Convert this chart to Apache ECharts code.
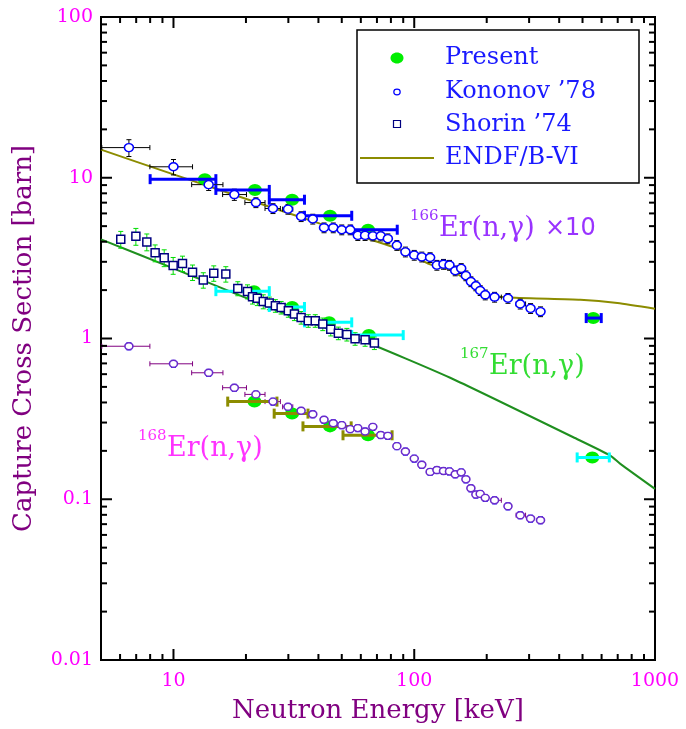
<!DOCTYPE html>
<html>
<head>
<meta charset="utf-8">
<script src="https://cdn.jsdelivr.net/npm/echarts@6/dist/echarts.min.js"></script>
<style>
  html, body { margin: 0; padding: 0; background: #fff; }
  #main { width: 686px; height: 729px; }
</style>
</head>
<body>
<div id="main"></div>
<script>
// ---- data (energies in keV, cross sections in barn) ----
// Present work, 166Er (plotted x10), 167Er, 168Er
const present166E   = [13.5, 21.8, 31.1, 44.7, 64.3, 554];
const present166Y   = [9.8, 8.4, 7.3, 5.8, 4.75, 1.34];
const present166ELo = [8, 15, 25, 35, 55, 518];
const present166EHi = [15, 25, 35, 55, 85, 598];

const present167E   = [21.6, 31.1, 44.3, 64.8, 549];
const present167Y   = [1.97, 1.57, 1.26, 1.05, 0.182];
const present167ELo = [15, 25, 35, 55, 475];
const present167EHi = [25, 35, 55, 90, 646];

const present168E   = [21.7, 31.1, 44.7, 64.3];
const present168Y   = [0.405, 0.341, 0.284, 0.250];
const present168ELo = [16.8, 26.2, 34.5, 50.6];
const present168EHi = [26.9, 36.2, 54.7, 80.9];

// Kononov '78 (same energy grid for 166Er and 168Er)
const kononovE = [6.53, 10.0, 14.0, 17.9, 22.0, 25.9, 29.9, 33.9, 37.9, 42.2, 46.1, 50.0, 54.2, 58.3, 62.5,
  67.3, 72.6, 77.7, 84.7, 91.9, 100, 107.5, 116.4, 124.2, 132.3, 140.1, 148, 156.7, 163.9, 171.9, 180.3,
  187.9, 197.2, 215.6, 245.1, 275.6, 304.2, 334.6];
const kononovELo = [5.04, 7.98, 11.9, 16.0, 19.8, 24.0, 28.4, 32.9, 36.8, 41.0, 44.7, 48.5, 52.6, 56.6, 60.6,
  65.3, 70.4, 75.4, 82.2, 89.1, 97, 104.3, 112.9, 120.5, 128.3, 135.9, 143.6, 152, 159, 166.7, 174.9,
  182.3, 191.3, 209, 237.7, 265, 295, 324.6];
const kononovEHi = [7.98, 12.0, 16.05, 20.1, 24.0, 27.8, 31.3, 34.9, 39.0, 43.5, 47.5, 51.5, 55.8, 60.0, 64.4,
  69.3, 74.8, 80.0, 87.2, 94.7, 103, 110.7, 119.9, 127.9, 136.3, 144.3, 152.4, 161.4, 168.8, 177.1, 185.7,
  193.5, 203.1, 230, 252.5, 290, 313, 344.6];
const kononov166Y = [15.4, 11.7, 9.06, 7.86, 7.01, 6.44, 6.38, 5.74, 5.54, 4.89, 4.89, 4.75, 4.75, 4.38, 4.38,
  4.35, 4.35, 4.18, 3.80, 3.46, 3.30, 3.22, 3.19, 2.86, 2.90, 2.86, 2.64, 2.73, 2.46, 2.26, 2.13,
  1.99, 1.87, 1.81, 1.78, 1.64, 1.54, 1.47];
const kononov166Err = [0.12, 0.11, 0.08, 0.08, 0.07, 0.07, 0.07, 0.07, 0.07, 0.07, 0.07, 0.07, 0.07, 0.07, 0.07,
  0.07, 0.07, 0.07, 0.07, 0.07, 0.07, 0.07, 0.07, 0.07, 0.07, 0.07, 0.07, 0.07, 0.07, 0.07, 0.07,
  0.07, 0.07, 0.07, 0.07, 0.07, 0.07, 0.07];
const kononov168Y = [0.895, 0.696, 0.612, 0.494, 0.449, 0.405, 0.376, 0.355, 0.338, 0.312, 0.297, 0.289, 0.273,
  0.277, 0.264, 0.282, 0.251, 0.248, 0.214, 0.198, 0.179, 0.164, 0.148, 0.152, 0.150, 0.149, 0.143, 0.147,
  0.133, 0.117, 0.107, 0.108, 0.102, 0.0985, 0.0904, 0.0796, 0.0758, 0.0741];
const kononov168Err = [0.05, 0.05, 0.05, 0.05, 0.05, 0.05, 0.05, 0.05, 0.05, 0.05, 0.05, 0.05, 0.05,
  0.05, 0.05, 0.05, 0.05, 0.05, 0.05, 0.05, 0.05, 0.05, 0.05, 0.05, 0.05, 0.05, 0.05, 0.05,
  0.05, 0.05, 0.05, 0.05, 0.05, 0.05, 0.05, 0.05, 0.05, 0.05];

// Shorin '74, 167Er
const shorinE = [6.04, 6.98, 7.75, 8.39, 9.15, 9.97, 10.9, 12.0, 13.3, 14.7, 16.5, 18.5, 20.3, 21.3, 22.3, 23.6,
  25.0, 26.5, 28.0, 30.0, 31.8, 33.9, 36.3, 38.8, 41.7, 45.0, 48.4, 52.5, 56.8, 62.5, 68.3];
const shorinY = [4.14, 4.32, 3.99, 3.41, 3.18, 2.85, 2.93, 2.58, 2.31, 2.55, 2.52, 2.05, 1.96, 1.82, 1.78, 1.70,
  1.66, 1.60, 1.56, 1.49, 1.42, 1.35, 1.29, 1.29, 1.23, 1.14, 1.08, 1.06, 0.997, 0.983, 0.938];
const shorinErr = [0.12, 0.12, 0.12, 0.12, 0.12, 0.12, 0.11, 0.11, 0.11, 0.11, 0.11, 0.1, 0.1, 0.1, 0.1, 0.1,
  0.09, 0.09, 0.09, 0.09, 0.09, 0.09, 0.09, 0.09, 0.09, 0.09, 0.09, 0.09, 0.09, 0.09, 0.09];

// ENDF/B-VI evaluations
const endf166E = [5, 10, 20.8, 40.6, 84.9, 116.4, 141, 163.5, 182.6, 197.2, 221.2, 303.4, 489.6, 698, 1000];
const endf166Y = [14.95, 10.49, 7.25, 5.18, 3.63, 2.89, 2.67, 2.32, 2.01, 1.86, 1.82, 1.78, 1.74, 1.66, 1.53];
const endf167E = [5, 10, 30.5, 59.6, 141, 457.9, 652.6, 718, 1000];
const endf167Y = [4.14, 2.73, 1.39, 0.983, 0.570, 0.243, 0.187, 0.166, 0.116];

const xTickLabels = ['10', '100', '1000'];
const yTickLabels = ['0.01', '0.1', '1', '10', '100'];

// ---- helpers ----
const SERIF = 'DejaVu Serif';

function pts(E, Y) {
  return E.map((e, i) => [e, Y[i]]);
}
function barData(E, Y, eLo, eHi, rel) {
  return E.map((e, i) => [
    e, Y[i],
    eLo ? eLo[i] : NaN, eHi ? eHi[i] : NaN,
    rel ? Y[i] * (1 - rel[i]) : NaN, rel ? Y[i] * (1 + rel[i]) : NaN
  ]);
}
function errorBars(hColor, vColor, width, cap) {
  return function (params, api) {
    const x = api.value(0), y = api.value(1);
    const kids = [];
    const seg = (x1, y1, x2, y2, c) => kids.push({
      type: 'line', shape: {x1: x1, y1: y1, x2: x2, y2: y2},
      style: {stroke: c, lineWidth: width}
    });
    const xl = api.value(2), xh = api.value(3);
    if (isFinite(xl) && isFinite(xh)) {
      const a = api.coord([xl, y]), b = api.coord([xh, y]);
      seg(a[0], a[1], b[0], b[1], hColor);
      seg(a[0], a[1] - cap, a[0], a[1] + cap, hColor);
      seg(b[0], b[1] - cap, b[0], b[1] + cap, hColor);
    }
    const yl = api.value(4), yh = api.value(5);
    if (isFinite(yl) && isFinite(yh)) {
      const a = api.coord([x, yl]), b = api.coord([x, yh]);
      seg(a[0], a[1], b[0], b[1], vColor);
      seg(a[0] - 2.5, a[1], a[0] + 2.5, a[1], vColor);
      seg(b[0] - 2.5, b[1], b[0] + 2.5, b[1], vColor);
    }
    return {type: 'group', children: kids};
  };
}
function barSeries(data, hColor, vColor, width, cap, z) {
  return {
    type: 'custom', data: data, renderItem: errorBars(hColor, vColor, width, cap),
    encode: {x: 0, y: 1}, silent: true, z: z
  };
}
function isDecade(v) {
  const l = Math.log10(v);
  return Math.abs(l - Math.round(l)) < 1e-6;
}

const chart = echarts.init(document.getElementById('main'));

const option = {
  backgroundColor: '#fff',
  animation: false,
  grid: {left: 101, right: 31, top: 17, bottom: 65, show: true, borderColor: '#000', borderWidth: 2},
  xAxis: {
    type: 'log', min: 5, max: 1000, logBase: 10,
    axisLine: {show: false}, axisTick: {show: false}, splitLine: {show: false},
    axisLabel: {
      margin: 12, color: '#ff00ff', fontFamily: SERIF, fontSize: 19,
      formatter: v => (isDecade(v) && xTickLabels.indexOf(String(Math.round(v))) >= 0) ? String(Math.round(v)) : ''
    },
    name: 'Neutron Energy [keV]', nameLocation: 'middle', nameGap: 38,
    nameTextStyle: {color: '#800080', fontFamily: SERIF, fontSize: 26}
  },
  yAxis: {
    type: 'log', min: 0.01, max: 100, logBase: 10,
    axisLine: {show: false}, axisTick: {show: false}, splitLine: {show: false},
    axisLabel: {
      margin: 8, color: '#ff00ff', fontFamily: SERIF, fontSize: 19,
      formatter: v => {
        if (!isDecade(v)) return '';
        const s = String(Number(v.toPrecision(1)));
        return yTickLabels.indexOf(s) >= 0 ? s : '';
      }
    },
    name: 'Capture Cross Section [barn]', nameLocation: 'middle', nameGap: 64,
    nameTextStyle: {color: '#800080', fontFamily: SERIF, fontSize: 26}
  },
  series: [
    {type: 'line', data: pts(endf166E, endf166Y), showSymbol: false, smooth: 0.2,
      lineStyle: {color: '#8c8c00', width: 2}, z: 1},
    {type: 'line', data: pts(endf167E, endf167Y), showSymbol: false, smooth: 0.2,
      lineStyle: {color: '#1f8f1f', width: 2}, z: 1},
    barSeries(barData(kononovE, kononov166Y, kononovELo, kononovEHi, kononov166Err), '#000', '#000', 1, 2.5, 3),
    barSeries(barData(kononovE, kononov168Y, kononovELo, kononovEHi, kononov168Err), '#800080', '#0000ff', 1, 2.5, 3),
    barSeries(barData(shorinE, shorinY, null, null, shorinErr), '#00dd00', '#00dd00', 1, 2.5, 3),
    {type: 'scatter', data: pts(present166E, present166Y), symbol: 'circle', symbolSize: [14, 12],
      itemStyle: {color: '#00ee00', opacity: 1}, z: 4},
    {type: 'scatter', data: pts(present167E, present167Y), symbol: 'circle', symbolSize: [14, 12],
      itemStyle: {color: '#00ee00', opacity: 1}, z: 4},
    {type: 'scatter', data: pts(present168E, present168Y), symbol: 'circle', symbolSize: [14, 12],
      itemStyle: {color: '#00ee00', opacity: 1}, z: 4},
    barSeries(barData(present166E, present166Y, present166ELo, present166EHi, null), '#0000ff', '#0000ff', 3, 5, 5),
    barSeries(barData(present167E, present167Y, present167ELo, present167EHi, null), '#00ffff', '#00ffff', 3, 5, 5),
    barSeries(barData(present168E, present168Y, present168ELo, present168EHi, null), '#8c8c00', '#8c8c00', 3, 5, 5),
    {type: 'scatter', data: pts(kononovE, kononov166Y), symbol: 'circle', symbolSize: [9, 8],
      itemStyle: {color: '#fff', borderColor: '#0000ff', borderWidth: 1.5, opacity: 1}, z: 6},
    {type: 'scatter', data: pts(kononovE, kononov168Y), symbol: 'circle', symbolSize: [8, 7],
      itemStyle: {color: '#fff', borderColor: '#6a2ccc', borderWidth: 1.5, opacity: 1}, z: 6},
    {type: 'scatter', data: pts(shorinE, shorinY), symbol: 'rect', symbolSize: [8, 8],
      itemStyle: {color: '#fff', borderColor: '#000080', borderWidth: 1.5, opacity: 1}, z: 6}
  ]
};
chart.setOption(option);

// ---- log ticks on all four sides, inside ----
function logTicks(lo, hi) {
  const out = [];
  for (let d = Math.floor(Math.log10(lo)); d <= Math.ceil(Math.log10(hi)); d++) {
    for (let k = 1; k <= 9; k++) {
      const v = k * Math.pow(10, d);
      if (v >= lo * 0.999 && v <= hi * 1.001) out.push({v: v, major: k === 1});
    }
  }
  return out;
}
const plotLeft = chart.convertToPixel({xAxisIndex: 0}, 5);
const plotRight = chart.convertToPixel({xAxisIndex: 0}, 1000);
const plotBottom = chart.convertToPixel({yAxisIndex: 0}, 0.01);
const plotTop = chart.convertToPixel({yAxisIndex: 0}, 100);
const graphics = [];
const tick = (x1, y1, x2, y2) => graphics.push({
  type: 'line', z: 20, silent: true,
  shape: {x1: x1, y1: y1, x2: x2, y2: y2}, style: {stroke: '#000', lineWidth: 2}
});
logTicks(5, 1000).forEach(t => {
  const px = chart.convertToPixel({xAxisIndex: 0}, t.v);
  const len = t.major ? 11 : 6;
  tick(px, plotBottom, px, plotBottom - len);
  tick(px, plotTop, px, plotTop + len);
});
logTicks(0.01, 100).forEach(t => {
  const py = chart.convertToPixel({yAxisIndex: 0}, t.v);
  const len = t.major ? 11 : 6;
  tick(plotLeft, py, plotLeft + len, py);
  tick(plotRight, py, plotRight - len, py);
});

// ---- legend box ----
const legendColor = '#1a1aff';
const legendFont = {fontFamily: SERIF, fontSize: 24, fill: legendColor, textVerticalAlign: 'middle'};
graphics.push(
  {type: 'rect', z: 30, shape: {x: 357, y: 30, width: 282, height: 153},
    style: {fill: '#fff', stroke: '#000', lineWidth: 1.5}},
  {type: 'ellipse', z: 31, shape: {cx: 397, cy: 58, rx: 6.5, ry: 5.5}, style: {fill: '#00ee00'}},
  {type: 'ellipse', z: 31, shape: {cx: 397, cy: 92, rx: 3.2, ry: 2.8},
    style: {fill: '#fff', stroke: '#0000ff', lineWidth: 1.2}},
  {type: 'rect', z: 31, shape: {x: 393.5, y: 120.5, width: 7, height: 7},
    style: {fill: '#fff', stroke: '#000080', lineWidth: 1.2}},
  {type: 'line', z: 31, shape: {x1: 360, y1: 158, x2: 434, y2: 158},
    style: {stroke: '#8c8c00', lineWidth: 2}},
  {type: 'text', z: 31, x: 445, y: 58, style: Object.assign({text: 'Present'}, legendFont)},
  {type: 'text', z: 31, x: 445, y: 92, style: Object.assign({text: 'Kononov \u201978'}, legendFont)},
  {type: 'text', z: 31, x: 445, y: 125, style: Object.assign({text: 'Shorin \u201974'}, legendFont)},
  {type: 'text', z: 31, x: 445, y: 158, style: Object.assign({text: 'ENDF/B-VI'}, legendFont)}
);

// ---- reaction labels ----
function reaction(x, y, mass, color, extra) {
  graphics.push(
    {type: 'text', z: 25, x: x, y: y - 13,
      style: {text: mass, fontFamily: SERIF, fontSize: 15, fill: color, textVerticalAlign: 'middle'}},
    {type: 'text', z: 25, x: x + 29, y: y,
      style: {text: 'Er(n,\u03b3)', fontFamily: SERIF, fontSize: 27, fill: color, textVerticalAlign: 'middle'}}
  );
  if (extra) {
    graphics.push({type: 'text', z: 25, x: x + 135, y: y,
      style: {text: extra, fontFamily: 'DejaVu Sans', fontSize: 24, fill: color,
        textVerticalAlign: 'middle'}});
  }
}
reaction(410, 229, '166', '#9933ff', '\u00d710');
reaction(460, 367, '167', '#33dd33', null);
reaction(138, 449, '168', '#ff33ff', null);

chart.setOption({graphic: graphics});
</script>
</body>
</html>
